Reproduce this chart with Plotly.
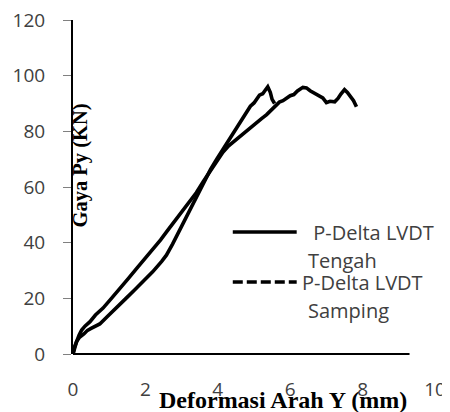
import plotly.graph_objects as go

# ---- data ----
tengah_x = [0, 0.05, 0.1, 0.17, 0.24, 0.33, 0.47, 0.62, 0.83, 1.05, 1.3, 1.52, 1.76, 2.0, 2.2, 2.42,
            2.62, 2.8, 3.0, 3.2, 3.41, 3.6, 3.8, 3.97, 4.14, 4.3, 4.5, 4.68, 4.85, 5.02, 5.2, 5.35,
            5.5, 5.6, 5.7, 5.8, 5.9, 6.0, 6.1, 6.2, 6.35, 6.45, 6.55, 6.65, 6.73, 6.82, 6.9, 7.0,
            7.1, 7.23, 7.32, 7.4, 7.5, 7.58, 7.66, 7.75, 7.83]
tengah_y = [0, 2.5, 4.5, 6.8, 8.6, 10.0, 11.6, 14.0, 16.5, 19.8, 23.5, 27.0, 30.8, 34.5, 37.5, 41.0,
            44.5, 47.5, 51.0, 54.5, 58.0, 62.0, 66.0, 69.5, 72.5, 74.8, 77.0, 79.0, 81.0, 82.8, 84.5, 86.0,
            88.0, 89.5, 90.5, 91.0, 92.0, 92.8, 93.2, 94.5, 95.8, 95.6, 94.6, 93.9, 93.5, 92.6, 92.0, 90.3,
            90.8, 90.6, 91.8, 93.4, 95.0, 94.0, 92.5, 91.0, 88.8]

samping_x = [0, 0.04, 0.1, 0.18, 0.3, 0.4, 0.5, 0.74, 0.95, 1.2, 1.45, 1.7, 1.95, 2.2, 2.45, 2.58,
             2.75, 3.0, 3.2, 3.45, 3.62, 3.8, 3.97, 4.14, 4.28, 4.4, 4.52, 4.65, 4.78, 4.9, 5.0, 5.07,
             5.15, 5.24, 5.3, 5.38, 5.45, 5.5, 5.57]
samping_y = [0, 2.5, 4.5, 6.0, 7.2, 8.5, 9.2, 10.8, 13.5, 16.5, 19.8, 23.0, 26.3, 29.5, 33.3, 35.5,
             39.5, 46.0, 51.0, 57.5, 62.0, 66.3, 70.0, 73.5, 76.2, 78.5, 81.2, 84.0, 86.3, 89.0, 90.2, 91.5,
             93.0, 93.5, 94.5, 96.0, 94.0, 91.5, 90.0]

series_names = ["P-Delta LVDT<br>Tengah", "P-Delta LVDT<br>Samping"]
x_ticks = [0, 2, 4, 6, 8, 10]
y_ticks = [0, 20, 40, 60, 80, 100, 120]
x_title = "Deformasi Arah Y (mm)"
y_title = "Gaya Py (KN)"

# ---- layout geometry (pixels) ----
# The page body has an 8px default margin, so the figure is drawn 8px smaller
# and every reference pixel position is shifted by that offset.
OFF = 8
W, H = 450 - OFF, 412 - OFF
PL, PR, PT, PB = 73, 435.5, 20, 354          # plot area in reference pixels
L, T = PL - OFF, PT - OFF
R, B = W - (PR - OFF), H - (PB - OFF)
PW, PH = PR - PL, PB - PT


def px(xp):
    return (xp - PL) / PW


def py(yp):
    return (PB - yp) / PH


fig = go.Figure()
fig.add_trace(go.Scatter(x=tengah_x, y=tengah_y, mode="lines", name=series_names[0],
                         line=dict(color="black", width=3.6), showlegend=False))
fig.add_trace(go.Scatter(x=samping_x, y=samping_y, mode="lines", name=series_names[1],
                         line=dict(color="black", width=3.6), showlegend=False))

tick_font = dict(family="Open Sans", size=19, color="#404040")

fig.update_layout(
    width=W, height=H,
    margin=dict(l=L, r=R, t=T, b=B, pad=0, autoexpand=False),
    paper_bgcolor="white", plot_bgcolor="white",
    showlegend=False,
    xaxis=dict(range=[0, 10], tickvals=x_ticks, ticks="", showgrid=False, zeroline=False,
               showline=False, tickfont=tick_font, ticklabelstandoff=22, automargin=False,
               ticklabeloverflow="allow"),
    yaxis=dict(range=[0, 120], tickvals=y_ticks, ticks="outside", ticklen=8, tickcolor="#808080",
               tickwidth=1, showgrid=False, zeroline=False, showline=True, linecolor="black",
               linewidth=2, tickfont=tick_font, ticklabelstandoff=14, automargin=False,
               ticklabeloverflow="allow"),
)

# x-axis line (shorter than the full range, as in the reference)
fig.add_shape(type="line", xref="paper", yref="paper", x0=0, x1=px(410), y0=0, y1=0,
              line=dict(color="black", width=2), layer="above")

# axis titles
fig.add_annotation(text=x_title, xref="paper", yref="paper", x=px(283), y=py(400),
                   showarrow=False, xanchor="center", yanchor="middle",
                   font=dict(family="Liberation Serif", size=24, color="black", weight="bold"))
fig.add_annotation(text=y_title, xref="paper", yref="paper", x=px(80.5), y=py(165),
                   showarrow=False, xanchor="center", yanchor="middle", textangle=-90,
                   font=dict(family="Liberation Serif", size=20.5, color="black", weight="bold"))

# legend (drawn manually to match the long samples)
leg_font = dict(family="Open Sans", size=20, color="#404040")
fig.add_shape(type="line", xref="paper", yref="paper", x0=px(233), x1=px(297), y0=py(232), y1=py(232),
              line=dict(color="black", width=3.6))
fig.add_shape(type="line", xref="paper", yref="paper", x0=px(233), x1=px(297), y0=py(282), y1=py(282),
              line=dict(color="black", width=3.6, dash="10px,4px"))
for txt, xp, yp in [(" P-Delta LVDT", 306, 232), ("Tengah", 306, 260),
                    ("P-Delta LVDT", 300, 282), ("Samping", 306, 310)]:
    fig.add_annotation(text=txt, xref="paper", yref="paper", x=px(xp), y=py(yp), showarrow=False,
                       xanchor="left", yanchor="middle", font=leg_font)

fig.write_html("out.html")
